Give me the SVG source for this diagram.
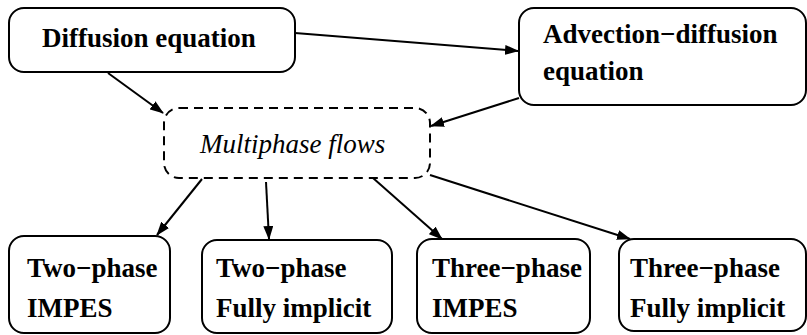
<svg xmlns="http://www.w3.org/2000/svg" width="807" height="335" viewBox="0 0 807 335">
<defs>
<marker id="ah" markerWidth="14" markerHeight="10" refX="13" refY="5" orient="auto" markerUnits="userSpaceOnUse">
<path d="M0,0 L14,5 L0,10 z" fill="#000"/>
</marker>
<style>
.box{fill:#fff;stroke:#000;stroke-width:2}
.dash{fill:#fff;stroke:#000;stroke-width:2;stroke-dasharray:9 6}
.c{stroke:#000;stroke-width:2;fill:none;marker-end:url(#ah)}
.t{font-family:"Liberation Serif","Times New Roman",serif;font-size:27px;font-weight:bold;fill:#000}
.it{font-family:"Liberation Serif","Times New Roman",serif;font-size:27px;font-style:italic;fill:#000}
</style>
</defs>
<rect width="807" height="335" fill="#fff"/>
<g id="connectors">
<line class="c" x1="295" y1="33" x2="518" y2="51"/>
<line class="c" x1="108" y1="73" x2="163" y2="113"/>
<line class="c" x1="519" y1="98" x2="431" y2="126"/>
<line class="c" x1="202" y1="179" x2="157" y2="235"/>
<line class="c" x1="266" y1="182" x2="269" y2="239"/>
<line class="c" x1="373" y1="178" x2="442" y2="239"/>
<line class="c" x1="430" y1="175" x2="630" y2="239"/>
</g>
<g id="diffusion">
<rect class="box" x="9" y="8" width="286" height="64" rx="15"/>
<text class="t" x="42" y="47">Diffusion equation</text>
</g>
<g id="advection">
<rect class="box" x="519" y="8" width="287" height="97" rx="15"/>
<text class="t" x="543" y="43">Advection−diffusion</text>
<text class="t" x="543" y="80">equation</text>
</g>
<g id="multiphase">
<rect class="dash" x="164" y="108" width="266" height="70" rx="15"/>
<text class="it" x="200" y="153">Multiphase flows</text>
</g>
<g id="two-impes">
<rect class="box" x="9" y="236" width="161" height="97" rx="15"/>
<text class="t" x="27" y="277">Two−phase</text>
<text class="t" x="27" y="317">IMPES</text>
</g>
<g id="two-fi">
<rect class="box" x="202" y="240" width="190" height="93" rx="15"/>
<text class="t" x="216" y="277">Two−phase</text>
<text class="t" x="216" y="317">Fully implicit</text>
</g>
<g id="three-impes">
<rect class="box" x="417" y="239" width="173" height="94" rx="15"/>
<text class="t" x="432" y="277">Three−phase</text>
<text class="t" x="432" y="317">IMPES</text>
</g>
<g id="three-fi">
<rect class="box" x="619" y="239" width="187" height="92" rx="15"/>
<text class="t" x="630" y="277">Three−phase</text>
<text class="t" x="630" y="317">Fully implicit</text>
</g>
</svg>
